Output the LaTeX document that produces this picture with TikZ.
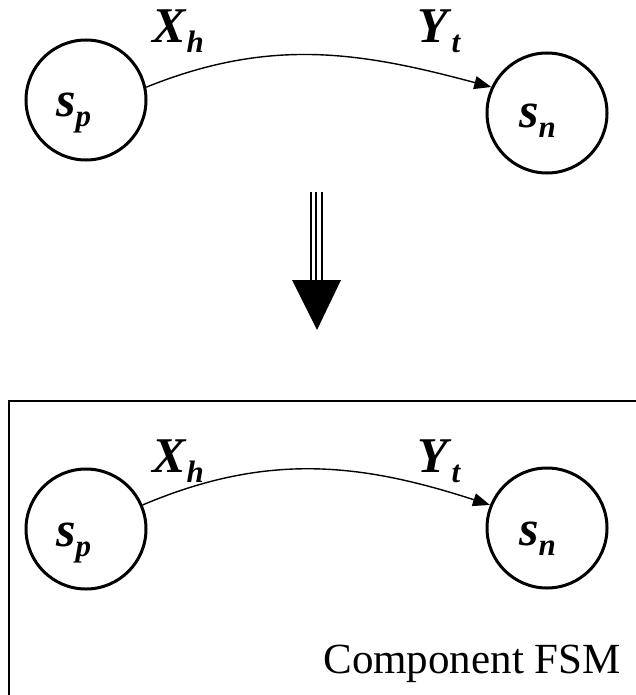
\documentclass[tikz,border=0pt]{standalone}
\usepackage{fontspec}
\setmainfont{Liberation Serif}
\usetikzlibrary{arrows.meta}
% state label: bold italic letter with a lowered subscript
\newcommand{\lab}[2]{\textbf{\textit{#1}}\raisebox{-0.2em}{\fontsize{31}{31}\selectfont\textbf{\textit{#2}}}}
\tikzset{
  state/.style={circle,draw,line width=3pt,minimum size=120pt,inner sep=0pt},
  lbl/.style={font=\fontsize{50}{60}\selectfont,inner sep=0pt,anchor=base west},
  trans/.style={line width=1.4pt,-{Triangle[length=17pt,width=13pt]}}
}
\begin{document}
\begin{tikzpicture}[x=1pt,y=-1pt]
\useasboundingbox (0,0) rectangle (636,695);
\clip (0,0) rectangle (636,695);
% top: single transition
\node[state] (sp) at (86,100) {};
\node[state] (sn) at (547,113) {};
\node[lbl] (sptxt) at (56,117) {\lab{s}{p}};
\node[lbl] (sntxt) at (519,128) {\lab{s}{n}};
\node[lbl] (xh) at (152,43) {\lab{X}{h}};
\node[lbl] (yt) at (417,43) {\lab{Y}{t}};
\draw[trans] (sp.12) to[out=22,in=165] (sn.155);
% big down arrow
\draw[line width=2pt] (311,192)--(311,281) (316,192)--(316,281) (322,192)--(322,281);
\fill (292,280)--(341,280)--(317,330)--cycle;
% bottom: the component FSM
\draw[line width=1.6pt] (9,710)--(9,401)--(650,401);
\node[state] (sp2) at (86,529) {};
\node[state] (sn2) at (547,528) {};
\node[lbl] (sp2txt) at (56,546) {\lab{s}{p}};
\node[lbl] (sn2txt) at (519,545) {\lab{s}{n}};
\node[lbl] (xh2) at (152,472) {\lab{X}{h}};
\node[lbl] (yt2) at (417,472) {\lab{Y}{t}};
\draw[trans] (sp2.23) to[out=23,in=162] (sn2.158);
\node[font=\fontsize{43}{50}\selectfont,inner sep=0pt,anchor=base east] (fsm) at (621,673) {Component FSM};
\end{tikzpicture}
\end{document}
